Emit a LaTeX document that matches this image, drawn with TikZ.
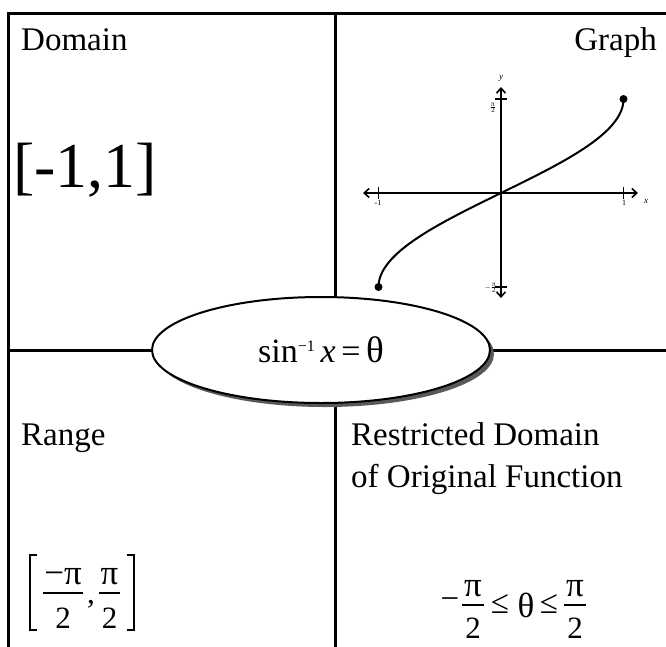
\documentclass[tikz,border=0pt]{standalone}
\usepackage{fontspec}
\setmainfont{Liberation Serif}
\usetikzlibrary{shapes.geometric,shadows,arrows.meta}
\begin{document}
\begin{tikzpicture}[x=1pt,y=-1pt,
  frame/.style={line width=3pt, line join=miter, line cap=rect},
  head/.style={inner sep=0pt, font=\fontsize{33}{36}\selectfont},
  glyph/.style={inner sep=0pt, anchor=base, font=\fontsize{31}{34}\selectfont},
  bigglyph/.style={inner sep=0pt, anchor=base, font=\fontsize{35}{40}\selectfont},
  glyphc/.style={inner sep=0pt, anchor=center, font=\fontsize{33}{36}\selectfont},
  fbar/.style={line width=1.2pt},
  brack/.style={line width=1.2pt, line join=miter},
  axis/.style={line width=1.6pt, {Straight Barb[length=5pt,width=9pt]}-{Straight Barb[length=5pt,width=9pt]}},
  tick/.style={line width=1.4pt},
  tiny/.style={inner sep=0pt, font=\fontsize{8}{9}\selectfont},
  curve/.style={line width=2pt},
  dot/.style={circle, fill=black, inner sep=0pt, minimum size=8pt},
  centre/.style={ellipse, draw, line width=2pt, fill=white, minimum width=338pt, minimum height=106pt, inner sep=0pt,
    drop shadow={shadow xshift=4pt, shadow yshift=-4pt, fill=black!65, opacity=1}, font=\fontsize{34}{36}\selectfont}
]
\useasboundingbox (0,0) rectangle (666,646);
% frame
\coordinate (TL) at (8,13);
\coordinate (TR) at (666,13);
\coordinate (BL) at (8,646);
\coordinate (TM) at (335,13);
\coordinate (BM) at (335,646);
\coordinate (ML) at (8,350);
\coordinate (MR) at (666,350);
\draw[frame] (TR) -- (TL) -- (BL);
\draw[frame] (TM) -- (BM);
\draw[frame] (ML) -- (MR);

% texts
\node[head, anchor=base west] (domain) at (21,50) {Domain};
\node[head, anchor=base east] (graphlbl) at (657,50) {Graph};
\node[inner sep=0pt, anchor=base west, font=\fontsize{64}{70}\selectfont] (domval) at (13,187) {[-1,1]};
\node[head, anchor=base west] (range) at (21,445) {Range};
\node[head, anchor=base west] (restr1) at (351,445) {Restricted Domain};
\node[head, anchor=base west] (restr2) at (351,487) {of Original Function};

% range value [ -pi/2 , pi/2 ]
\draw[brack] (37,555) -- (30,555) -- (30,630) -- (37,630);
\draw[brack] (127,555) -- (134,555) -- (134,630) -- (127,630);
\draw[fbar] (43,593) -- (83,593);
\node[bigglyph] (rn1) at (63,584) {−π};
\node[glyph] (rd1) at (63,628) {2};
\node[glyph] (rcomma) at (91,603) {,};
\draw[fbar] (99,593) -- (120,593);
\node[bigglyph] (rn2) at (109.5,584) {π};
\node[glyph] (rd2) at (109.5,628) {2};

% restricted value  -pi/2 <= theta <= pi/2
\node[glyphc] (sminus) at (450,604) {−};
\draw[fbar] (462,605) -- (484,605);
\node[bigglyph] (sn1) at (473,596) {π};
\node[glyph] (sd1) at (473,638) {2};
\node[glyphc] (sle1) at (500,604) {≤};
\node[bigglyph] (stheta) at (526,617) {θ};
\node[glyphc] (sle2) at (549,604) {≤};
\draw[fbar] (564,605) -- (586,605);
\node[bigglyph] (sn2) at (575,596) {π};
\node[glyph] (sd2) at (575,638) {2};

% graph
\begin{scope}[shift={(501,193)}]
  \coordinate (O) at (0,0);
  \coordinate (xl) at (-138,0);
  \coordinate (xr) at (137,0);
  \coordinate (yt) at (0,-106);
  \coordinate (yb) at (0,105);
  \draw[axis] (xl) -- (xr);
  \draw[axis] (yb) -- (yt);
  \draw[tick] (-122.5,-6) -- (-122.5,6);
  \draw[tick] (122.5,-6) -- (122.5,6);
  \draw[tick] (-6,-94) -- (6,-94);
  \draw[tick] (-6,94) -- (6,94);
  \draw[curve] plot[domain=-90:90, samples=121, variable=\t] ({122.5*sin(\t)},{-94/90*\t});
  \node[dot] (pstart) at (-122.5,94) {};
  \node[dot] (pend) at (122.5,-94) {};
  \node[tiny] (lm1) at (-123,10) {-1};
  \node[tiny] (lp1) at (123,10) {1};
  \node[tiny, font=\fontsize{9}{10}\selectfont\itshape] (xlbl) at (145,8) {x};
  \node[tiny, font=\fontsize{9}{10}\selectfont\itshape] (ylbl) at (0,-115) {y};
  \node[tiny, font=\fontsize{7}{8}\selectfont] (pihalf) at (-8,-85) {$\frac{\mbox{π}}{\mbox{2}}$};
  \node[tiny, font=\fontsize{7}{8}\selectfont, anchor=east] (mpihalf) at (-4,95) {$-\frac{\mbox{π}}{\mbox{2}}$};
\end{scope}

% centre ellipse
\node[centre] (fn) at (321,350) {sin\raisebox{11pt}{\fontsize{16}{17}\selectfont −1}\,\textit{x}\,=\,{\fontsize{37}{38}\selectfont θ}};
\end{tikzpicture}
\end{document}
